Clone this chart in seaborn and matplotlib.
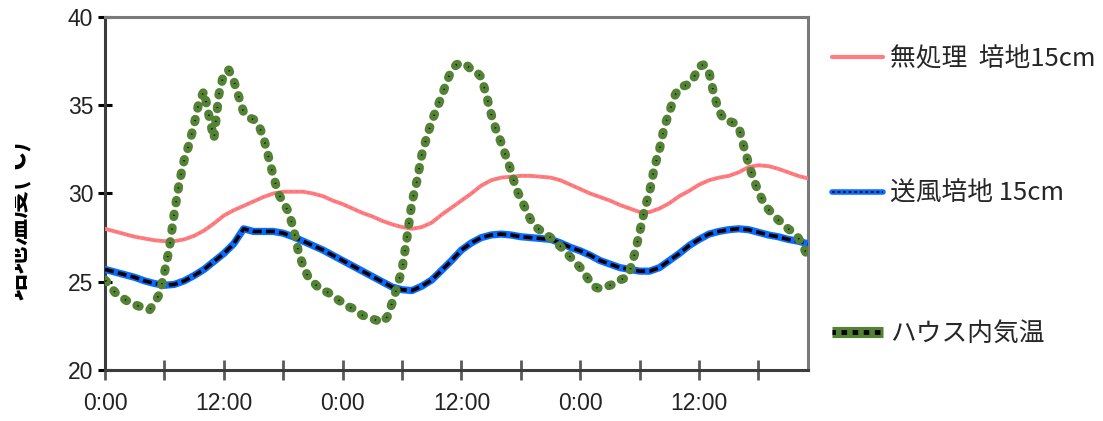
import numpy as np
import pandas as pd
import matplotlib
matplotlib.use("Agg")
import matplotlib.pyplot as plt
import seaborn as sns
from matplotlib.lines import Line2D
from matplotlib.transforms import Bbox, TransformedBbox

# ---------------- data ----------------
hours = list(range(0, 72))
untreated_15cm = [28.0, 27.85, 27.7, 27.55, 27.45, 27.35, 27.3, 27.3, 27.4, 27.6,
                  27.9, 28.3, 28.75, 29.05, 29.3, 29.55, 29.8, 30.0, 30.1, 30.1,
                  30.1, 30.0, 29.85, 29.6, 29.4, 29.15, 28.9, 28.7, 28.45, 28.25,
                  28.1, 28.0, 28.1, 28.35, 28.8, 29.2, 29.6, 30.0, 30.45, 30.75,
                  30.9, 30.95, 31.0, 31.0, 30.95, 30.9, 30.75, 30.5, 30.25, 30.0,
                  29.8, 29.6, 29.35, 29.15, 28.95, 28.95, 29.15, 29.45, 29.85, 30.15,
                  30.5, 30.75, 30.9, 31.0, 31.2, 31.5, 31.6, 31.55, 31.4, 31.2,
                  31.0, 30.85]
aerated_15cm = [25.7, 25.55, 25.4, 25.25, 25.05, 24.9, 24.8, 24.85, 25.05, 25.35,
                25.7, 26.15, 26.6, 27.15, 28.0, 27.85, 27.85, 27.85, 27.75, 27.55,
                27.3, 27.05, 26.8, 26.5, 26.2, 25.9, 25.6, 25.3, 25.0, 24.7,
                24.55, 24.5, 24.75, 25.1, 25.65, 26.2, 26.8, 27.2, 27.5, 27.65,
                27.7, 27.65, 27.55, 27.5, 27.45, 27.4, 27.2, 26.95, 26.75, 26.5,
                26.2, 26.0, 25.8, 25.7, 25.6, 25.6, 25.8, 26.2, 26.6, 27.05,
                27.4, 27.7, 27.85, 27.95, 28.0, 27.95, 27.8, 27.65, 27.55, 27.4,
                27.3, 27.15]
half_hours = [i * 0.5 for i in range(0, 143)]
house_air = [25.1, 24.8, 24.4, 24.2, 24.0, 23.8, 23.7, 23.6, 23.5, 23.4,
             23.8, 24.3, 25.5, 26.9, 28.9, 30.6, 31.9, 32.8, 33.9, 35.2,
             35.8, 34.4, 33.1, 35.6, 36.8, 37.0, 36.4, 35.5, 34.6, 34.3,
             34.2, 33.9, 33.2, 32.1, 31.0, 30.0, 29.5, 29.0, 28.1, 26.8,
             25.9, 25.3, 25.0, 24.7, 24.5, 24.4, 24.2, 24.0, 23.8, 23.6,
             23.5, 23.3, 23.1, 23.0, 22.9, 22.8, 22.7, 23.0, 23.8, 24.7,
             25.7, 27.5, 29.5, 30.7, 32.2, 33.2, 34.1, 34.8, 35.5, 36.3,
             37.0, 37.3, 37.4, 37.3, 37.0, 36.9, 36.6, 35.6, 34.5, 33.6,
             32.9, 32.1, 31.3, 30.3, 29.7, 29.1, 28.5, 28.1, 27.9, 27.7,
             27.5, 27.2, 27.0, 26.7, 26.4, 26.1, 25.8, 25.4, 25.0, 24.7,
             24.6, 24.7, 24.8, 24.9, 25.1, 25.2, 25.6, 26.6, 27.8, 29.1,
             30.1, 31.5, 32.5, 33.8, 34.6, 35.5, 36.0, 36.1, 36.2, 36.6,
             37.2, 37.3, 36.9, 35.6, 34.7, 34.2, 34.1, 34.0, 33.8, 32.7,
             31.7, 30.8, 30.1, 29.5, 29.1, 28.8, 28.5, 28.3, 28.0, 27.8,
             27.5, 27.0, 26.4]
labels = ["無処理  培地15cm", "送風培地 15cm", "ハウス内気温"]
x_tick_labels = ["0:00", "12:00", "0:00", "12:00", "0:00", "12:00"]
y_label = "培地温度(℃)"

# ---------------- style ----------------
sns.set_theme(style="white")
plt.rcParams["font.family"] = ["Liberation Sans", "Noto Sans CJK JP", "DejaVu Sans"]
plt.rcParams["lines.scale_dashes"] = False

W, H, DPI = 1103, 421, 100
fig = plt.figure(figsize=(W / DPI, H / DPI), dpi=DPI)
ax = fig.add_axes([105 / W, 1 - 370 / H, (808 - 105) / W, (370 - 17) / H])

red_c = "#ff7c80"
blue_c = "#0a6cff"
green_c = "#548235"

df_r = pd.DataFrame({"h": hours, "t": untreated_15cm})
df_b = pd.DataFrame({"h": hours, "t": aerated_15cm})
df_g = pd.DataFrame({"h": half_hours, "t": house_air})

# red
sns.lineplot(data=df_r, x="h", y="t", ax=ax, color=red_c, lw=2.8,
             estimator=None, zorder=3)
sns.lineplot(data=df_r, x="h", y="t", ax=ax, color="#b04a4a", lw=0.6,
             linestyle=(0, (0.6, 3.5)), estimator=None, zorder=3.1, alpha=0.7)
# blue
sns.lineplot(data=df_b, x="h", y="t", ax=ax, color=blue_c, lw=5.2,
             estimator=None, zorder=4, solid_capstyle="round")
sns.lineplot(data=df_b, x="h", y="t", ax=ax, color="black", lw=2.6,
             linestyle=(0, (6.5, 3.0)), estimator=None, zorder=4.1)
# green
sns.lineplot(data=df_g, x="h", y="t", ax=ax, color=green_c, lw=6.5,
             linestyle=(0, (1.8, 8.2)), dash_capstyle="round",
             estimator=None, zorder=5)
sns.lineplot(data=df_g, x="h", y="t", ax=ax, color="black", lw=1.2,
             linestyle=(9.5, (0.8, 9.2)), estimator=None, zorder=5.1)

ax.set_xlim(0, 71)
ax.set_ylim(20, 40)
ax.set_xlabel("")
ax.set_ylabel("")

ax.set_xticks(np.arange(0, 72, 12))
ax.set_xticklabels(x_tick_labels)
ax.set_xticks(np.arange(6, 72, 12), minor=True)
ax.set_yticks([20, 25, 30, 35, 40])
ax.tick_params(axis="x", which="both", direction="inout", length=15, width=2.0,
               color="#5a5a5a", labelsize=16.5, pad=8, labelcolor="#222222", bottom=True)
ax.tick_params(axis="y", which="major", direction="inout", length=10, width=2.2,
               color="black", labelsize=16.5, pad=3.5, labelcolor="#222222", left=True)

for side, col in [("left", "#3c3c3c"), ("bottom", "#3c3c3c"), ("top", "#7a7a7a"), ("right", "#7a7a7a")]:
    ax.spines[side].set_visible(True)
    ax.spines[side].set_color(col)
    ax.spines[side].set_linewidth(2.2)

# ---------------- legend ----------------
h_red = Line2D([], [], color=red_c, lw=3.0)
h_blue = (Line2D([], [], color=blue_c, lw=4.0),
          Line2D([], [], color="black", lw=1.2, linestyle=(0, (2.0, 2.0))))
h_green = (Line2D([], [], color=green_c, lw=8.0, solid_capstyle="butt"),
           Line2D([], [], color="black", lw=3.5, linestyle=(1.5, (4.0, 4.0))))
handles = [h_red, h_blue, h_green]
ys = [59, 194, 334]
for hd, lab, yy in zip(handles, labels, ys):
    leg = fig.legend([hd], [lab], loc="center left",
                     bbox_to_anchor=(832 / W, 1 - yy / H),
                     frameon=False, borderpad=0, borderaxespad=0,
                     handlelength=2.0, handletextpad=0.25,
                     prop={"family": ["Noto Sans CJK JP", "DejaVu Sans"], "size": 18.5})

# ---------------- y label (clipped at left like reference) ----------------
t = fig.text(17 / W, 1 - 220 / H, y_label, rotation=90, ha="center", va="center",
             fontsize=20, fontweight="bold",
             family=["Noto Sans CJK JP", "DejaVu Sans"], color="black")
t.set_clip_box(TransformedBbox(Bbox([[15 / W, 0], [1, 1]]), fig.transFigure))
t.set_clip_on(True)

fig.savefig("out.png", dpi=DPI, facecolor="white")
